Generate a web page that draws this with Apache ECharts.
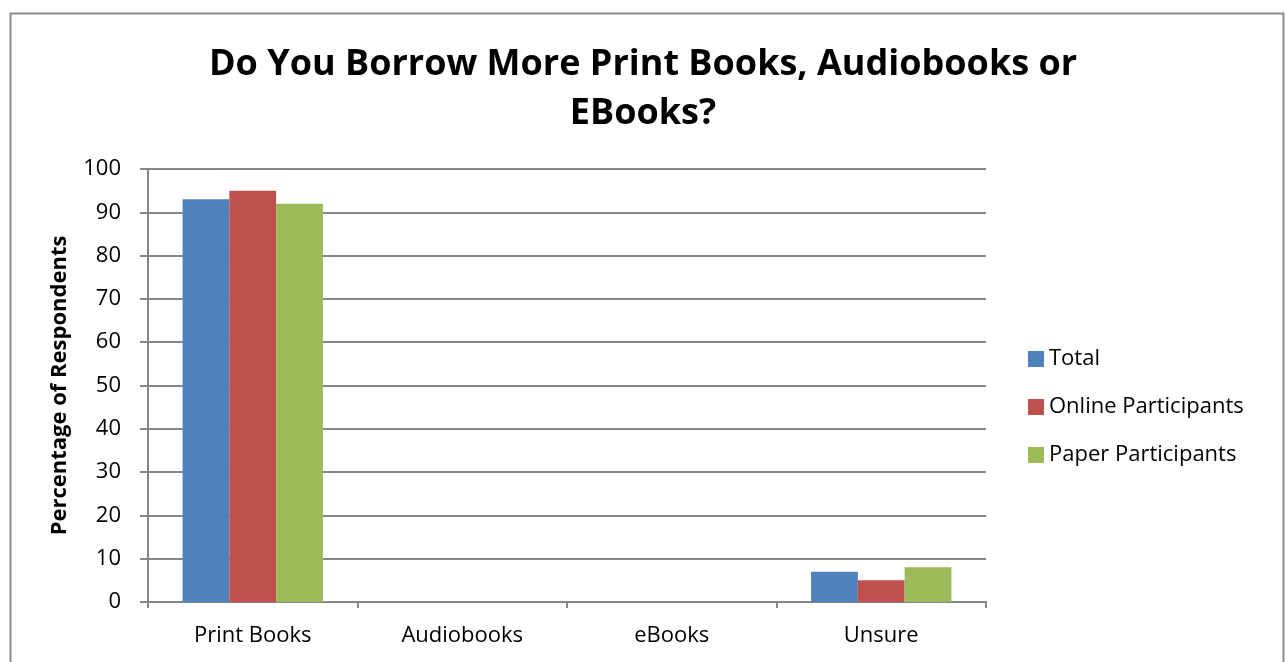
<!DOCTYPE html>
<html>
<head>
<meta charset="utf-8">
<script src="https://cdn.jsdelivr.net/npm/echarts@6/dist/echarts.min.js"></script>
<style>html,body{margin:0;padding:0;background:#fff;}#c{width:1286px;height:662px;}</style>
</head>
<body>
<div id="c"></div>
<script>
const categories = ['Print Books', 'Audiobooks', 'eBooks', 'Unsure'];
const seriesNames = ['Total', 'Online Participants', 'Paper Participants'];
const totalValues = [93, 0, 0, 7];
const onlineValues = [95, 0, 0, 5];
const paperValues = [92, 0, 0, 8];
const yTicks = { min: 0, max: 100, interval: 10 };
const colors = ['#4F81BD', '#C0504D', '#9BBB59'];

const FONT = '"Open Sans", "Noto Sans", sans-serif';
const chart = echarts.init(document.getElementById('c'), null, { renderer: 'canvas' });
const dataSets = [totalValues, onlineValues, paperValues];

chart.setOption({
  animation: false,
  backgroundColor: '#fff',
  graphic: [{
    type: 'rect', left: 8, top: 11, z: -1,
    shape: { width: 1273, height: 700 },
    style: { fill: 'none', stroke: '#8c8c8c', lineWidth: 2 }
  }],
  title: {
    text: 'Do You Borrow More Print Books, Audiobooks or\nEBooks?',
    left: 'center', top: 35,
    textStyle: { fontFamily: FONT, fontWeight: 'bold', fontSize: 36, lineHeight: 49, color: '#000' }
  },
  legend: {
    orient: 'vertical', left: 1023, top: 343,
    itemWidth: 16, itemHeight: 16, itemGap: 26,
    icon: 'rect',
    textStyle: { fontFamily: FONT, fontSize: 22, color: '#000' },
    data: seriesNames
  },
  grid: { left: 148, right: 300, top: 169, bottom: 60, containLabel: false },
  xAxis: {
    type: 'category', data: categories,
    axisLine: { lineStyle: { color: '#868686', width: 2 } },
    axisTick: { show: true, alignWithLabel: false, length: 6, lineStyle: { color: '#868686', width: 2 } },
    axisLabel: { margin: 23, fontFamily: FONT, fontSize: 22, color: '#000' }
  },
  yAxis: {
    type: 'value', min: yTicks.min, max: yTicks.max, interval: yTicks.interval,
    name: 'Percentage of Respondents', nameLocation: 'middle', nameGap: 77,
    nameTextStyle: { fontFamily: FONT, fontWeight: 'bold', fontSize: 22, color: '#000' },
    axisLine: { show: true, lineStyle: { color: '#868686', width: 2 } },
    axisTick: { show: true, length: 8, lineStyle: { color: '#868686', width: 2 } },
    axisLabel: { margin: 27, fontFamily: FONT, fontSize: 22, color: '#000' },
    splitLine: { show: true, lineStyle: { color: '#868686', width: 2 } }
  },
  series: seriesNames.map((n, i) => ({
    name: n, type: 'bar', data: dataSets[i],
    barGap: '0%', barCategoryGap: '33%',
    itemStyle: { color: colors[i] }
  }))
});
</script>
</body>
</html>
